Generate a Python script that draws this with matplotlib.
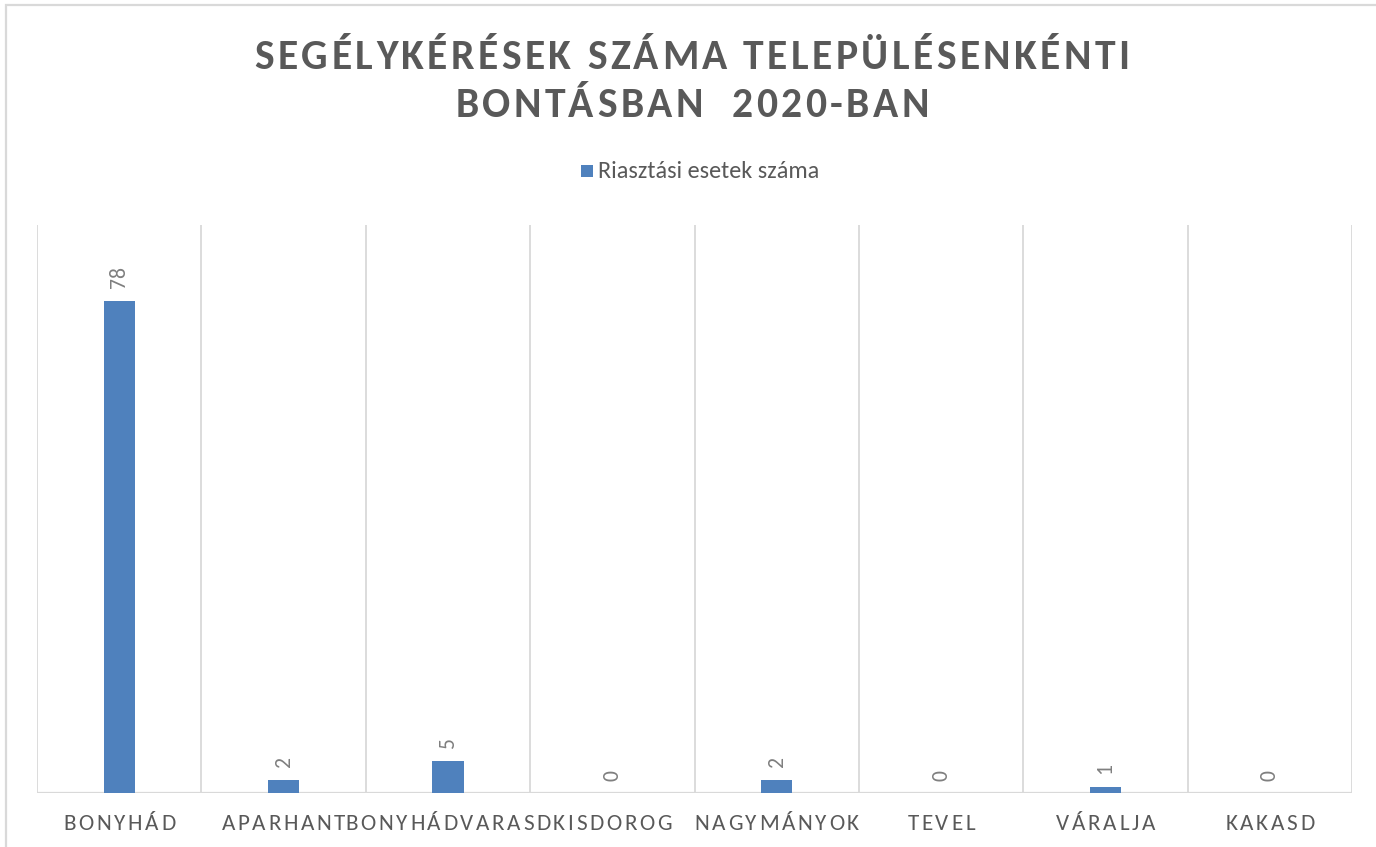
import matplotlib
matplotlib.use('Agg')
import matplotlib.pyplot as plt
from matplotlib import font_manager
from matplotlib.font_manager import FontProperties, findfont, get_font
from matplotlib.patches import Rectangle

# ---------------- data ----------------
categories = ["BONYHÁD", "APARHANT", "BONYHÁDVARASD", "KISDOROG",
              "NAGYMÁNYOK", "TEVEL", "VÁRALJA", "KAKASD"]
values = [78, 2, 5, 0, 2, 0, 1, 0]
series_name = "Riasztási esetek száma"
title_lines = ["SEGÉLYKÉRÉSEK SZÁMA TELEPÜLÉSENKÉNTI", "BONTÁSBAN  2020-BAN"]
y_max = 90

# ---------------- style ----------------
W, H, DPI = 1376, 847, 100
BAR_COLOR = "#4F81BD"
TEXT_GRAY = "#595959"
LABEL_GRAY = "#7F7F7F"
GRID_GRAY = "#D9D9D9"

names = {f.name for f in font_manager.fontManager.ttflist}


def pick(cands):
    for c in cands:
        if c in names:
            return c
    return "DejaVu Sans"


FAMILY = pick(["Carlito", "Liberation Sans Narrow", "Lato", "Open Sans"])


def font_obj(prop):
    f = get_font(findfont(prop))
    f.set_size(prop.get_size_in_points(), DPI)
    return f


def size_for_cap(weight, cap_px):
    p = FontProperties(family=FAMILY, weight=weight, size=10)
    f = font_obj(p)
    g = f.load_char(ord("H"))
    h = g.height / 64.0
    return 10 * cap_px / h


def advances(s, prop):
    f = font_obj(prop)
    out = []
    for ch in s:
        g = f.load_char(ord(ch))
        out.append(g.linearHoriAdvance / 65536.0)
    return out


def spaced(fig, s, xc, ybase, prop, spacing, color):
    adv = advances(s, prop)
    total = sum(adv) + spacing * (len(s) - 1)
    x = xc - total / 2
    for ch, a in zip(s, adv):
        if ch != " ":
            fig.text((x + a / 2) / W, 1 - ybase / H, ch, fontproperties=prop,
                     color=color, ha="center", va="baseline")
        x += a + spacing


def spacing_for(s, prop, target):
    adv = advances(s, prop)
    return (target - sum(adv)) / (len(s) - 1)


fig = plt.figure(figsize=(W / DPI, H / DPI), dpi=DPI)
fig.patch.set_facecolor("white")

# outer chart border
fig.patches.append(Rectangle((6 / W, -0.05), 1.1, 1 - 5 / H + 0.05,
                             transform=fig.transFigure, fill=False,
                             edgecolor=GRID_GRAY, lw=1.6))

left, right, top, bottom = 37, 1352, 225, 793
ax = fig.add_axes([left / W, 1 - bottom / H, (right - left) / W, (bottom - top) / H])
n = len(categories)
xs = list(range(n))
ax.bar(xs, values, width=0.19, color=BAR_COLOR, zorder=3)
ax.set_xlim(-0.5, n - 0.5)
ax.set_ylim(0, y_max)
for b in [i - 0.5 for i in range(n + 1)]:
    ax.axvline(b, color=GRID_GRAY, lw=1.3, zorder=1)
ax.axhline(0, color=GRID_GRAY, lw=1.6, zorder=2)
for s in ax.spines.values():
    s.set_visible(False)
ax.set_xticks([])
ax.set_yticks([])

# data labels
lab_prop = FontProperties(family=FAMILY, size=size_for_cap("normal", 14))
for x, v in zip(xs, values):
    ax.annotate(str(v), (x, v), xytext=(0, 9), textcoords="offset points",
                rotation=90, ha="center", va="bottom", color=LABEL_GRAY,
                fontproperties=lab_prop)

# category labels (letter spaced)
tick_prop = FontProperties(family=FAMILY, size=size_for_cap("normal", 15))
tick_sp = spacing_for(categories[0], tick_prop, 112)
cat_w = (right - left) / n
for i, c in enumerate(categories):
    spaced(fig, c, left + cat_w * (i + 0.5), 830, tick_prop, tick_sp, TEXT_GRAY)

# title (letter spaced)
title_prop = FontProperties(family=FAMILY, weight="bold", size=size_for_cap("bold", 27))
t_sp = spacing_for(title_lines[0], title_prop, 875)
spaced(fig, title_lines[0], 692, 69, title_prop, t_sp, TEXT_GRAY)
spaced(fig, title_lines[1], 692, 117, title_prop, t_sp, TEXT_GRAY)

# legend
leg_prop = FontProperties(family=FAMILY, size=10)
natural = sum(advances(series_name, leg_prop))
leg_prop.set_size(10 * 220 / natural)
fig.patches.append(Rectangle((581 / W, 1 - 177 / H), 12 / W, 12 / H,
                             transform=fig.transFigure, facecolor=BAR_COLOR,
                             edgecolor="none"))
fig.text(598 / W, 1 - 178 / H, series_name, fontproperties=leg_prop,
         color=TEXT_GRAY, ha="left", va="baseline")

fig.savefig("out.png", dpi=DPI)
